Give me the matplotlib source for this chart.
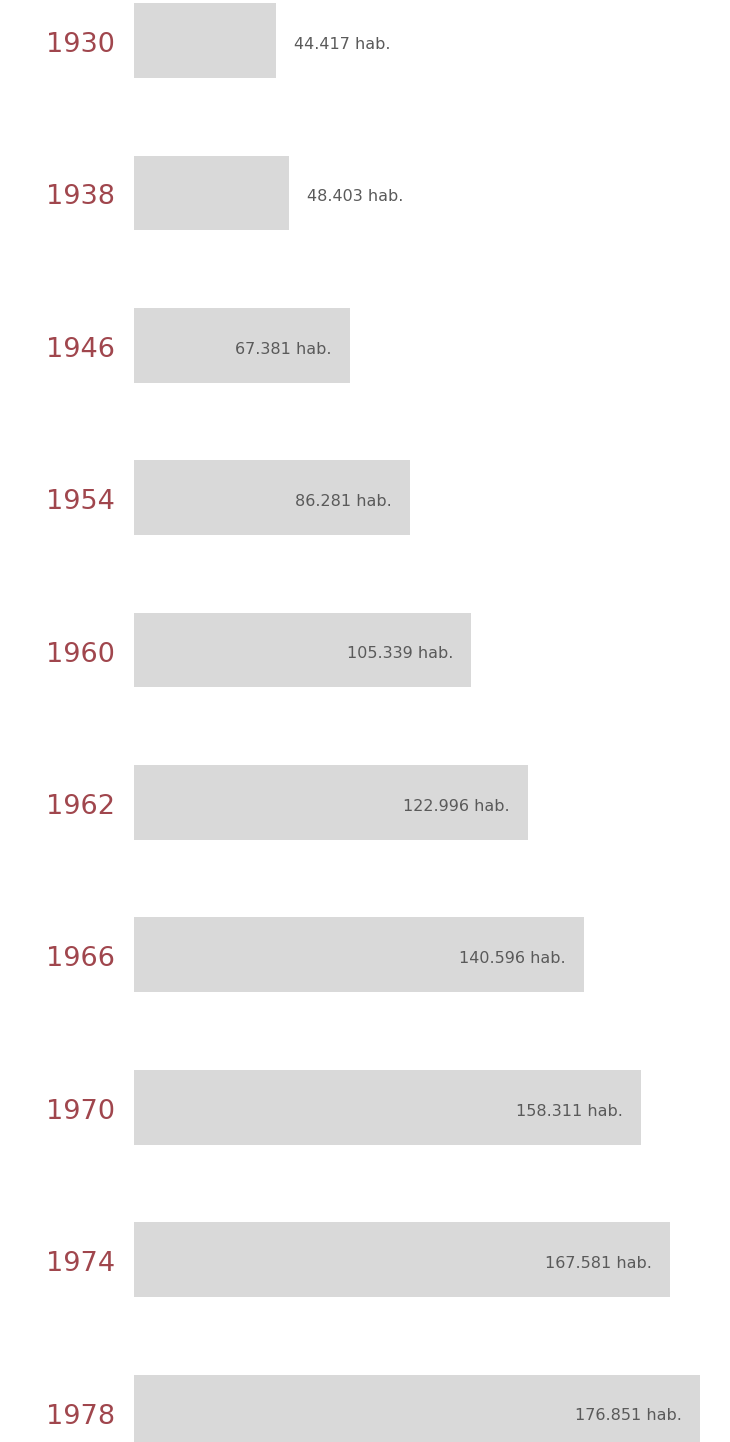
import matplotlib
matplotlib.use("Agg")
import matplotlib.pyplot as plt

# population (habitantes) per census year
years = ["1930", "1938", "1946", "1954", "1960", "1962", "1966", "1970", "1974", "1978"]
population = [44417, 48403, 67381, 86281, 105339, 122996, 140596, 158311, 167581, 176851]
labels = ["44.417 hab.", "48.403 hab.", "67.381 hab.", "86.281 hab.", "105.339 hab.",
          "122.996 hab.", "140.596 hab.", "158.311 hab.", "167.581 hab.", "176.851 hab."]

bar_color = "#d9d9d9"
year_color = "#a0464d"
text_color = "#5a5a5a"

plt.rcParams['font.family'] = ['DejaVu Sans']

fig = plt.figure(figsize=(7.3, 14.42), dpi=100)
ax = fig.add_axes([134 / 730, 0, 596 / 730, 1])

pos = list(range(len(years)))
ax.barh(pos, population, height=0.49, color=bar_color)

ax.set_xlim(0, 186225)
ax.set_ylim(9.197, -0.266)
ax.axis("off")

pad = 18 / 0.0032  # ~18 px in data units
for i, (v, lab) in enumerate(zip(population, labels)):
    # year on the left
    ax.text(-19 / 0.0032, i + 0.03, years[i], ha="right", va="center",
            fontsize=19.5, color=year_color)
    # short bars get the label outside, long ones inside
    if v < 50000:
        ax.text(v + pad, i + 0.025, lab, ha="left", va="center",
                fontsize=11.5, color=text_color)
    else:
        ax.text(v - pad, i + 0.025, lab, ha="right", va="center",
                fontsize=11.5, color=text_color)

fig.savefig("out.png", dpi=100, facecolor="white")
